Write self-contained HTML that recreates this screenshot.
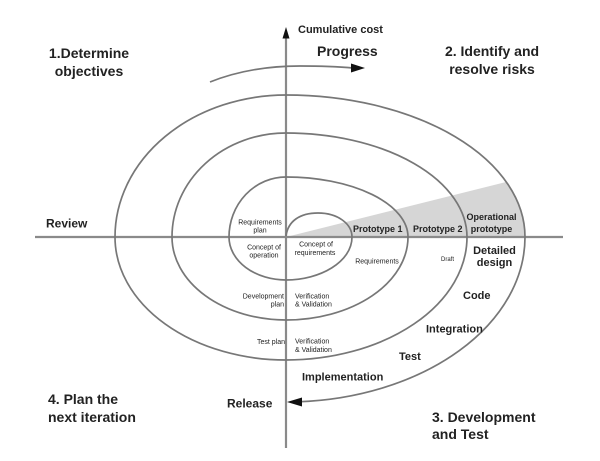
<!DOCTYPE html>
<html>
<head>
<meta charset="utf-8">
<style>
  html, body { margin: 0; padding: 0; background: #fff; }
  svg { display: block; }
  text { font-family: "Liberation Sans", Arial, sans-serif; fill: #222; }
  .b { font-weight: bold; }
</style>
</head>
<body>
<svg width="600" height="461" viewBox="0 0 600 461" xmlns="http://www.w3.org/2000/svg">
  <rect x="0" y="0" width="600" height="461" fill="#fff"/>

  <!-- shaded prototype wedge -->
  <path d="M286,237 L506,182 A239,142 0 0 1 525,237 Z" fill="#d6d6d6" stroke="none"/>

  <!-- axes -->
  <line x1="35" y1="237" x2="563" y2="237" stroke="#8a8a8a" stroke-width="2.2"/>
  <line x1="286" y1="36" x2="286" y2="448" stroke="#8a8a8a" stroke-width="2.2"/>
  <polygon points="286,27 282.5,38.5 289.5,38.5" fill="#111"/>

  <!-- spiral -->
  <path d="M286,236 C288,221 300,213 318,213 C338,213 352,224 352,237 C352,262 320,280 286,280
           A57,43 0 0 1 229,237
           A57,60 0 0 1 286,177
           A122,60 0 0 1 408,237
           A122,83 0 0 1 286,320
           A114,83 0 0 1 172,237
           A114,104 0 0 1 286,133
           A181,104 0 0 1 467,237
           A181,123 0 0 1 286,360
           A171,123 0 0 1 115,237
           A171,142 0 0 1 286,95
           A239,142 0 0 1 525,237
           A239,165 0 0 1 298,401.8"
        fill="none" stroke="#777" stroke-width="1.7"/>
  <!-- release arrowhead -->
  <polygon points="287,402 302,397.5 302,406.5" fill="#111"/>

  <!-- progress arrow -->
  <path d="M210,82 C240,70 270,66 300,66 C325,66 342,67 353,68" fill="none" stroke="#777" stroke-width="1.7"/>
  <polygon points="365,68 351,63.5 351,72.5" fill="#111"/>

  <!-- big quadrant labels -->
  <text class="b" x="89" y="58" font-size="14" text-anchor="middle">1.Determine</text>
  <text class="b" x="89" y="76" font-size="14" text-anchor="middle">objectives</text>

  <text class="b" x="492" y="56" font-size="14" text-anchor="middle">2. Identify and</text>
  <text class="b" x="492" y="74" font-size="14" text-anchor="middle">resolve risks</text>

  <text class="b" x="48" y="404" font-size="14">4. Plan the</text>
  <text class="b" x="48" y="422" font-size="14">next iteration</text>

  <text class="b" x="432" y="422" font-size="14">3. Development</text>
  <text class="b" x="432" y="439" font-size="14">and Test</text>

  <text class="b" x="298" y="33" font-size="11">Cumulative cost</text>
  <text class="b" x="317" y="56" font-size="14">Progress</text>

  <text class="b" x="46" y="227.5" font-size="12">Review</text>
  <text class="b" x="227" y="407.5" font-size="12">Release</text>

  <!-- inner small labels -->
  <text x="260" y="224.5" font-size="7" text-anchor="middle">Requirements</text>
  <text x="260" y="232.5" font-size="7" text-anchor="middle">plan</text>

  <text x="264" y="249.5" font-size="7" text-anchor="middle">Concept of</text>
  <text x="264" y="257.5" font-size="7" text-anchor="middle">operation</text>

  <text x="316" y="246.5" font-size="7" text-anchor="middle">Concept of</text>
  <text x="315" y="255" font-size="7" text-anchor="middle">requirements</text>

  <text x="377" y="263.5" font-size="7" text-anchor="middle">Requirements</text>
  <text x="447.5" y="261" font-size="6" text-anchor="middle">Draft</text>

  <text x="284" y="298.5" font-size="7" text-anchor="end">Development</text>
  <text x="284" y="306.5" font-size="7" text-anchor="end">plan</text>
  <text x="295" y="298.5" font-size="7">Verification</text>
  <text x="295" y="306.5" font-size="7">&amp; Validation</text>

  <text x="285" y="344" font-size="7" text-anchor="end">Test plan</text>
  <text x="295" y="343.5" font-size="7">Verification</text>
  <text x="295" y="352" font-size="7">&amp; Validation</text>

  <!-- prototypes -->
  <text class="b" x="353" y="232" font-size="9">Prototype 1</text>
  <text class="b" x="413" y="232" font-size="9">Prototype 2</text>
  <text class="b" x="491.5" y="220" font-size="9" text-anchor="middle">Operational</text>
  <text class="b" x="491.5" y="232" font-size="9" text-anchor="middle">prototype</text>

  <!-- development labels -->
  <text class="b" x="494.5" y="254" font-size="11" text-anchor="middle">Detailed</text>
  <text class="b" x="494.5" y="266" font-size="11" text-anchor="middle">design</text>
  <text class="b" x="463" y="299" font-size="11">Code</text>
  <text class="b" x="426" y="332.5" font-size="11">Integration</text>
  <text class="b" x="399" y="360" font-size="11">Test</text>
  <text class="b" x="302" y="380.5" font-size="11">Implementation</text>
</svg>
</body>
</html>
